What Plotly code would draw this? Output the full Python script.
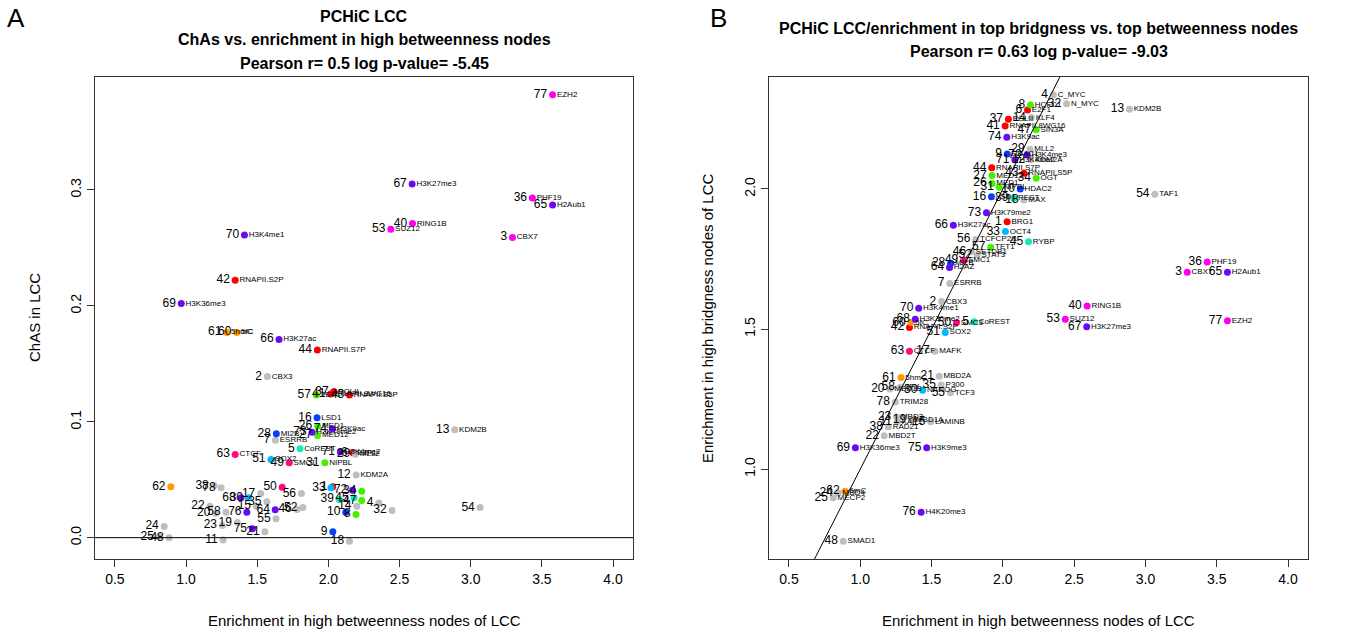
import plotly.graph_objects as go

# ---------------- data ----------------
ids = [1, 2, 3, 4, 5, 6, 7, 8, 9, 10,
       11, 12, 13, 14, 15, 16, 17, 18, 19, 20,
       21, 22, 23, 24, 25, 26, 27, 28, 29, 30,
       31, 32, 33, 34, 35, 36, 37, 38, 39, 40,
       41, 42, 43, 44, 45, 46, 47, 48, 49, 50,
       51, 52, 53, 54, 55, 56, 57, 58, 60, 61,
       62, 63, 64, 65, 66, 67, 68, 69, 70, 71,
       72, 73, 74, 75, 76, 77, 78]

names = ["BRG1", "CBX3", "CBX7", "C_MYC", "CoREST", "E2F1", "ESRRB", "HCFC1", "HDAC1", "HDAC2",
         "KAP1", "KDM2A", "KDM2B", "KLF4", "LAMINB", "LSD1", "MAFK", "MAX", "MBD1A", "MBD1B",
         "MBD2A", "MBD2T", "MBD3", "MBD4", "MECP2", "MED1", "MED12", "MI2B", "MLL2", "NANOG",
         "NIPBL", "N_MYC", "OCT4", "OGT", "P300", "PHF19", "POLII", "RAD21", "REST", "RING1B",
         "RNAPII.8WG16", "RNAPII.S2P", "RNAPII.S5P", "RNAPII.S7P", "RYBP", "SETDB1", "SIN3A", "SMAD1", "SMC1", "SMC3",
         "SOX2", "STAT3", "SUZ12", "TAF1", "TCF3", "TCFCP2l1", "TET1", "ZFX", "5fC", "5hmC",
         "5mC", "CTCF", "H2AZ", "H2Aub1", "H3K27ac", "H3K27me3", "H3K36me2", "H3K36me3", "H3K4me1", "H3K4me2",
         "H3K4me3", "H3K79me2", "H3K9ac", "H3K9me3", "H4K20me3", "EZH2", "TRIM28"]

groups = ["red", "gray", "magenta", "gray", "teal", "red", "gray", "green", "blue", "blue",
          "gray", "gray", "gray", "gray", "gray", "blue", "gray", "gray", "gray", "gray",
          "gray", "gray", "gray", "gray", "gray", "green", "green", "blue", "gray", "cyan",
          "green", "gray", "cyan", "green", "gray", "magenta", "red", "gray", "teal", "magenta",
          "red", "red", "red", "red", "teal", "gray", "green", "gray", "pink", "pink",
          "cyan", "gray", "magenta", "gray", "gray", "gray", "green", "gray", "orange", "orange",
          "orange", "pink", "purple", "purple", "purple", "purple", "purple", "purple", "purple", "purple",
          "purple", "purple", "purple", "purple", "purple", "magenta", "gray"]

# enrichment in high betweenness nodes of LCC (shared x)
betweenness = [2.030, 1.571, 3.293, 2.354, 1.800, 2.173, 1.628, 2.194, 2.031, 2.122,
               1.260, 2.195, 2.888, 2.200, 1.494, 1.920, 1.524, 2.148, 1.360, 1.208,
               1.554, 1.168, 1.255, 0.846, 0.811, 1.924, 1.924, 1.634, 2.190, 1.438,
               1.975, 2.447, 2.018, 2.234, 1.568, 3.433, 2.039, 1.197, 2.076, 2.591,
               2.016, 1.345, 2.148, 1.922, 2.180, 1.780, 2.234, 0.881, 1.725, 1.675,
               1.596, 1.820, 2.438, 3.066, 1.632, 1.810, 1.915, 1.280, 1.356, 1.286,
               0.893, 1.345, 1.626, 3.575, 1.653, 2.588, 1.386, 0.966, 1.410, 2.084,
               2.170, 1.885, 2.028, 1.466, 1.427, 3.575, 1.246]

# ChAs in LCC (panel A)
chas = [0.0440, 0.1390, 0.2590, 0.0300, 0.0767, 0.0733, 0.0841, 0.0200, 0.0050, 0.0220,
        -0.0020, 0.0540, 0.0930, 0.0270, 0.0270, 0.1034, 0.0380, -0.0030, 0.0130, 0.0210,
        0.0050, 0.0270, 0.0106, 0.0097, 0.0010, 0.0962, 0.0882, 0.0897, 0.0720, 0.0345,
        0.0647, 0.0235, 0.0430, 0.0400, 0.0310, 0.2930, 0.1260, 0.0450, 0.0330, 0.2710,
        0.1240, 0.2220, 0.1230, 0.1620, 0.0345, 0.0244, 0.0320, 0.0000, 0.0647, 0.0436,
        0.0675, 0.0260, 0.2660, 0.0260, 0.0164, 0.0380, 0.1230, 0.0220, 0.1770, 0.1770,
        0.0440, 0.0718, 0.0240, 0.2870, 0.1710, 0.3050, 0.0345, 0.2020, 0.2610, 0.0738,
        0.0410, 0.0910, 0.0940, 0.0078, 0.0220, 0.3820, 0.0430]

# enrichment in high bridgness nodes of LCC (panel B)
bridgeness = [1.883, 1.598, 1.703, 2.336, 1.526, 2.282, 1.663, 2.300, 2.125, 2.000,
              1.170, 2.104, 2.285, 2.255, 1.169, 1.972, 1.421, 1.961, 1.177, 1.286,
              1.332, 1.119, 1.187, 0.915, 0.898, 2.020, 2.048, 1.735, 2.142, 1.282,
              2.006, 2.304, 1.848, 2.038, 1.300, 1.739, 2.249, 1.151, 1.967, 1.582,
              2.225, 1.506, 2.056, 2.076, 1.812, 1.776, 2.211, 0.743, 1.746, 1.523,
              1.488, 1.764, 1.535, 1.981, 1.273, 1.820, 1.792, 1.292, 1.523, 1.327,
              0.921, 1.421, 1.720, 1.703, 1.871, 1.508, 1.535, 1.076, 1.574, 2.104,
              2.121, 1.915, 2.185, 1.076, 0.846, 1.530, 1.240]

x_ticks = [0.5, 1.0, 1.5, 2.0, 2.5, 3.0, 3.5, 4.0]
yA_ticks = [0.0, 0.1, 0.2, 0.3]
yB_ticks = [1.0, 1.5, 2.0]

title_A = ["PCHiC LCC", "ChAs vs. enrichment in high betweenness nodes",
           "Pearson r= 0.5 log p-value= -5.45"]
title_B = ["PCHiC LCC/enrichment in top bridgness vs. top betweenness nodes",
           "Pearson r= 0.63 log p-value= -9.03"]
xlab = "Enrichment in high betweenness nodes of LCC"
ylab_A = "ChAS in LCC"
ylab_B = "Enrichment in high bridgness nodes of LCC"

palette = {"red": "#FF0000", "gray": "#BEBEBE", "magenta": "#FF00EE", "teal": "#10EBB8",
           "green": "#44F000", "blue": "#0A3CFF", "cyan": "#00B8FF", "pink": "#FF0A78",
           "orange": "#FF9A00", "purple": "#6A0AF5"}
colors = [palette[g] for g in groups]

# ---------------- layout geometry ----------------
W, H = 1359, 638
A_x0, A_x1 = 95, 633
B_x0, B_x1 = 769, 1308
P_top, P_bot = 77, 559
FONT = "Liberation Sans, Arial, Helvetica, sans-serif"


def r_range(lo, hi):
    d = (hi - lo) * 0.04
    return [lo - d, hi + d]


x_range = r_range(min(x_ticks), max(x_ticks))
yA_range = r_range(min(chas), max(chas))
yB_range = r_range(min(bridgeness), max(bridgeness))

fig = go.Figure()


def add_points(xa, ya, yvals, name_filter):
    fig.add_trace(go.Scatter(
        x=betweenness, y=yvals, mode="markers", xaxis=xa, yaxis=ya,
        marker=dict(color=colors, size=7, line=dict(width=0)),
        hoverinfo="skip", showlegend=False))
    name_txt = [n if name_filter(v) else "" for n, v in zip(names, yvals)]
    fig.add_trace(go.Scatter(
        x=betweenness, y=yvals, mode="markers+text", xaxis=xa, yaxis=ya,
        marker=dict(size=5.3, opacity=0), text=name_txt, textposition="middle right",
        textfont=dict(family=FONT, size=8, color="black"),
        hoverinfo="skip", showlegend=False))
    fig.add_trace(go.Scatter(
        x=betweenness, y=yvals, mode="markers+text", xaxis=xa, yaxis=ya,
        marker=dict(size=7, opacity=0), text=[str(i) for i in ids],
        textposition="middle left",
        textfont=dict(family=FONT, size=12, color="black"),
        hoverinfo="skip", showlegend=False))


add_points("x", "y", chas, lambda v: v > 0.05)
add_points("x2", "y2", bridgeness, lambda v: True)

# reference lines: y = 0 (A) and y = x (B)
fig.add_trace(go.Scatter(x=x_range, y=[0, 0], mode="lines", xaxis="x", yaxis="y",
                         line=dict(color="black", width=1), hoverinfo="skip", showlegend=False))
lo = max(x_range[0], yB_range[0])
hi = min(x_range[1], yB_range[1])
fig.add_trace(go.Scatter(x=[lo, hi], y=[lo, hi], mode="lines", xaxis="x2", yaxis="y2",
                         line=dict(color="black", width=1), hoverinfo="skip", showlegend=False))

axis_common = dict(showgrid=False, zeroline=False, showline=True, mirror=True,
                   linecolor="#333333", linewidth=1, ticks="outside", ticklen=7,
                   tickcolor="#333333", tickfont=dict(family=FONT, size=14, color="black"))

ydom = [(H - P_bot) / H, (H - P_top) / H]
fig.update_layout(
    width=W, height=H, margin=dict(l=0, r=0, t=0, b=0),
    paper_bgcolor="white", plot_bgcolor="white", showlegend=False,
    xaxis=dict(domain=[A_x0 / W, A_x1 / W], range=x_range, tickvals=x_ticks,
               ticktext=[f"{v:.1f}" for v in x_ticks], anchor="y", **axis_common),
    yaxis=dict(domain=ydom, range=yA_range, tickvals=yA_ticks, tickangle=-90,
               ticktext=[f"{v:.1f}" for v in yA_ticks], anchor="x", **axis_common),
    xaxis2=dict(domain=[B_x0 / W, B_x1 / W], range=x_range, tickvals=x_ticks,
                ticktext=[f"{v:.1f}" for v in x_ticks], anchor="y2", **axis_common),
    yaxis2=dict(domain=ydom, range=yB_range, tickvals=yB_ticks, tickangle=-90,
                ticktext=[f"{v:.1f}" for v in yB_ticks], anchor="x2", **axis_common),
)

ann = []


def add_text(txt, xpx, ypx, size, bold=False, angle=0):
    ann.append(dict(text=f"<b>{txt}</b>" if bold else txt, x=xpx / W, y=1 - ypx / H,
                    xref="paper", yref="paper", showarrow=False, textangle=angle,
                    xanchor="center", yanchor="middle",
                    font=dict(family=FONT, size=size, color="black")))


for i, t in enumerate(title_A):
    add_text(t, (A_x0 + A_x1) / 2, 16 + 23.5 * i, 16, bold=True)
for i, t in enumerate(title_B):
    add_text(t, (B_x0 + B_x1) / 2, 28 + 23.5 * i, 16, bold=True)
add_text("A", 16, 18, 26)
add_text("B", 718, 18, 26)
add_text(xlab, (A_x0 + A_x1) / 2, 620, 15)
add_text(xlab, (B_x0 + B_x1) / 2, 620, 15)
add_text(ylab_A, 34, (P_top + P_bot) / 2, 15, angle=-90)
add_text(ylab_B, 707, (P_top + P_bot) / 2, 15, angle=-90)
fig.update_layout(annotations=ann)

fig.write_html("out.html")
